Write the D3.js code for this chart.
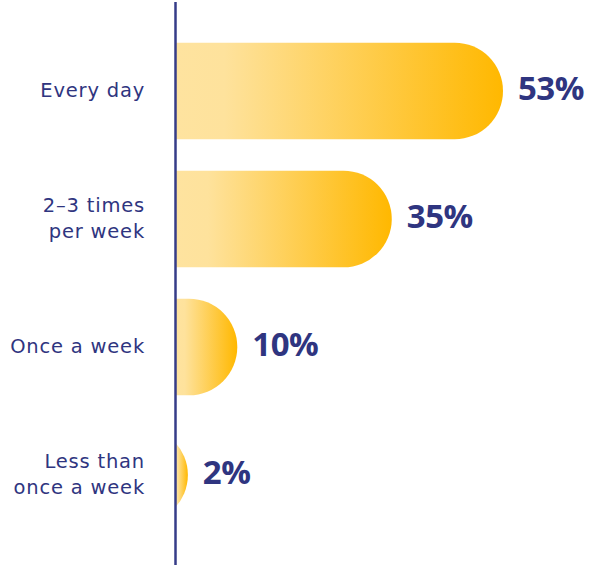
<!DOCTYPE html>
<html><head><meta charset="utf-8">
<script src="https://cdn.jsdelivr.net/npm/d3@7"></script>
<style>html,body{margin:0;padding:0;background:#fff;}svg{display:block;}</style>
</head><body>
<svg id="chart" width="592" height="565"></svg>
<script>
const categories = ["Every day", "2–3 times per week", "Once a week", "Less than once a week"];
const categoryLines = [["Every day"], ["2–3 times", "per week"], ["Once a week"], ["Less than", "once a week"]];
const values = [53, 35, 10, 2];
const valueLabels = ["53%", "35%", "10%", "2%"];

const W = 592, H = 565;
const axisX = 175.5;
const navy = "#2f3580";
const svg = d3.select("#chart");

const x = d3.scaleLinear().domain([0, 53]).range([axisX, 503]);
const y = d3.scaleBand().domain(categories).range([26, 540]).paddingInner(0.245).paddingOuter(0.13);
const bh = y.bandwidth();
const r = bh / 2;

const defs = svg.append("defs");
defs.append("clipPath").attr("id", "clipR").append("rect")
  .attr("x", axisX).attr("y", 0).attr("width", W).attr("height", H);

values.forEach((v, i) => {
  const g = defs.append("linearGradient").attr("id", "grad" + i)
    .attr("gradientUnits", "userSpaceOnUse")
    .attr("x1", axisX).attr("x2", x(v)).attr("y1", 0).attr("y2", 0);
  g.append("stop").attr("offset", 0).attr("stop-color", "#fee39f");
  g.append("stop").attr("offset", 0.15).attr("stop-color", "#fee29c");
  g.append("stop").attr("offset", 1).attr("stop-color", "#ffb800");
});

const bars = svg.append("g").attr("clip-path", "url(#clipR)");
bars.selectAll("rect").data(values).join("rect")
  .attr("x", d => Math.min(axisX - 2 * r, x(d) - 2 * r))
  .attr("y", (d, i) => y(categories[i]))
  .attr("width", d => x(d) - Math.min(axisX - 2 * r, x(d) - 2 * r))
  .attr("height", bh)
  .attr("rx", r).attr("ry", r)
  .attr("fill", (d, i) => `url(#grad${i})`);

svg.append("line").attr("x1", axisX).attr("x2", axisX).attr("y1", 2).attr("y2", H)
  .attr("stroke", "#363c88").attr("stroke-width", 2.5);

svg.append("g").selectAll("text").data(values).join("text")
  .attr("x", d => x(d) + 15)
  .attr("y", (d, i) => y(categories[i]) + bh / 2 + 9)
  .attr("font-family", "'Open Sans', sans-serif")
  .attr("font-weight", 700)
  .attr("font-size", 33)
  .attr("letter-spacing", -0.5)
  .attr("fill", navy)
  .text((d, i) => valueLabels[i]);

const lab = svg.append("g");
categories.forEach((c, i) => {
  const lines = categoryLines[i];
  const cy = y(c) + bh / 2;
  const lh = 26;
  const t = lab.append("text")
    .attr("text-anchor", "end")
    .attr("font-family", "'DejaVu Sans', sans-serif")
    .attr("font-weight", 400)
    .attr("font-size", 19.5)
    .attr("letter-spacing", 0.8)
    .attr("fill", navy);
  lines.forEach((l, j) => {
    t.append("tspan").attr("x", 145)
      .attr("y", cy + 6 + (j - (lines.length - 1) / 2) * lh)
      .text(l);
  });
});
</script>
</body></html>
